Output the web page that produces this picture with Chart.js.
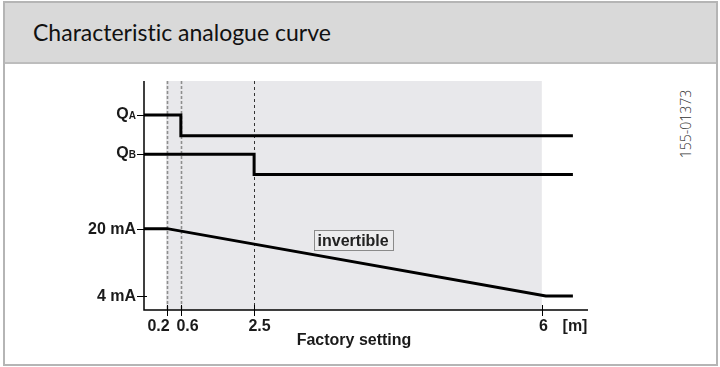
<!DOCTYPE html>
<html>
<head>
<meta charset="utf-8">
<script src="https://cdn.jsdelivr.net/npm/chart.js@4.4.1/dist/chart.umd.min.js"></script>
<style>
  html, body { margin: 0; padding: 0; background: #fff; }
  body { width: 720px; height: 367px; position: relative; overflow: hidden; }
  .card {
    position: absolute; left: 3px; top: 1px;
    width: 711px; height: 361px;
    border: 2px solid #b5b5b5; background: #fff;
  }
  .card-head {
    height: 59px; background: #d9d9d9; border-bottom: 2px solid #bdbdbd;
  }
  .card-head h1 {
    margin: 0; padding: 0 0 0 28px;
    font: 400 23px "Lato", sans-serif; line-height: 59px; color: #111;
    font-variant-ligatures: none;
  }
  .docno {
    position: absolute; left: 685px; top: 124px;
    transform: translate(-50%, -50%) rotate(-90deg);
    font: 300 14px "Open Sans", sans-serif; color: #333; white-space: nowrap;
  }
  #chart { position: absolute; left: 0; top: 0; }
</style>
</head>
<body>
<div class="card">
  <div class="card-head"><h1>Characteristic analogue curve</h1></div>
</div>
<div class="docno">155-01373</div>
<canvas id="chart" width="720" height="367"></canvas>
<script>
  // Distance axis is schematic (0..100 along the axis), labelled in metres
  const distLabels = ["0.2", "0.6", "2.5", "6"];
  const distAt = [5.2, 8.3, 24.8, 89.6];
  const lineEnd = 96.6;

  // Switching outputs QA / QB (level on the Q scale, 0..100)
  const qaX = [0, 8.3, 8.3, lineEnd];
  const qaY = [85.1, 85.1, 76.1, 76.1];
  const qbX = [0, 24.8, 24.8, lineEnd];
  const qbY = [68.0, 68.0, 59.2, 59.2];

  // Analogue output in mA
  const maX = [0, 5.2, 90.5, lineEnd];
  const maY = [20, 20, 4, 4];
  const maTicks = [20, 4];
  const qTicks = [85.1, 68.0];
  const qNames = ["A", "B"];

  const toPoints = (xs, ys) => xs.map((x, i) => ({ x: x, y: ys[i] }));

  const BOLD = "bold 16px 'Liberation Sans', Arial, sans-serif";

  // Shaded range, dashed markers, axes and labels
  const schematic = {
    id: "schematic",
    beforeDatasetsDraw(chart) {
      const ctx = chart.ctx;
      const area = chart.chartArea;
      const x = chart.scales.x;

      ctx.save();
      const x0 = x.getPixelForValue(distAt[0]);
      const x1 = x.getPixelForValue(distAt[3]);
      ctx.fillStyle = "#e8e8eb";
      ctx.fillRect(x0 - 1, area.top, x1 - x0 + 1, area.bottom - area.top);

      // dashed markers at 0.2, 0.6 and 2.5
      [0, 1, 2].forEach(function (i) {
        const px = Math.round(x.getPixelForValue(distAt[i])) + 0.5;
        ctx.beginPath();
        if (i < 2) {
          ctx.strokeStyle = "#8e8e8e";
          ctx.lineWidth = 1.6;
          ctx.setLineDash([3, 2]);
        } else {
          ctx.strokeStyle = "#333";
          ctx.lineWidth = 1;
          ctx.setLineDash([3, 3]);
        }
        ctx.moveTo(px, area.top);
        ctx.lineTo(px, area.bottom);
        ctx.stroke();
      });
      ctx.setLineDash([]);

      // "invertible" note on the analogue line
      const bx = x.getPixelForValue(47.1);
      const by = chart.scales.y.getPixelForValue(17.25);
      ctx.font = BOLD;
      const w = ctx.measureText("invertible").width + 8;
      ctx.fillStyle = "#ececee";
      ctx.fillRect(bx - w / 2, by - 10, w, 20);
      ctx.strokeStyle = "#8a8a8a";
      ctx.lineWidth = 1;
      ctx.strokeRect(Math.round(bx - w / 2) + 0.5, Math.round(by - 10) + 0.5, Math.round(w), 20);
      ctx.fillStyle = "#222";
      ctx.textAlign = "center";
      ctx.textBaseline = "alphabetic";
      ctx.fillText("invertible", bx, by + 6);
      ctx.restore();
    },
    afterDatasetsDraw(chart) {
      const ctx = chart.ctx;
      const area = chart.chartArea;
      const x = chart.scales.x;
      const y = chart.scales.y;
      const q = chart.scales.q;
      const axisEnd = x.getPixelForValue(100);

      ctx.save();
      ctx.strokeStyle = "#000";
      ctx.lineWidth = 1.5;
      ctx.beginPath();
      ctx.moveTo(area.left, area.top);
      ctx.lineTo(area.left, area.bottom);
      ctx.lineTo(axisEnd, area.bottom);
      ctx.stroke();

      ctx.lineWidth = 1;
      ctx.font = BOLD;
      ctx.fillStyle = "#1a1a1a";
      ctx.textBaseline = "alphabetic";

      // y ticks: Q outputs
      qTicks.forEach(function (v, i) {
        const py = Math.round(q.getPixelForValue(v)) + 0.5;
        ctx.beginPath();
        ctx.moveTo(area.left - 7, py);
        ctx.lineTo(area.left, py);
        ctx.stroke();
        ctx.font = "bold 10px 'Liberation Sans', Arial, sans-serif";
        const sw = ctx.measureText(qNames[i]).width;
        ctx.textAlign = "right";
        ctx.fillText(qNames[i], area.left - 8, py + 3.5);
        ctx.font = BOLD;
        ctx.fillText("Q", area.left - 8 - sw, py + 3.5);
      });

      // y ticks: mA
      maTicks.forEach(function (v) {
        const py = Math.round(y.getPixelForValue(v)) + 0.5;
        ctx.beginPath();
        ctx.moveTo(area.left - 7, py);
        ctx.lineTo(area.left + 3, py);
        ctx.stroke();
        ctx.textAlign = "right";
        ctx.fillText(v + " mA", area.left - 8, py + 4);
      });

      // x ticks
      const nudge = [-9, 6, 5, 1];
      distAt.forEach(function (v, i) {
        const px = Math.round(x.getPixelForValue(v)) + 0.5;
        ctx.beginPath();
        ctx.moveTo(px, area.bottom - 5);
        ctx.lineTo(px, area.bottom + 6);
        ctx.stroke();
        ctx.textAlign = "center";
        ctx.fillText(distLabels[i], px + nudge[i], area.bottom + 21);
      });
      ctx.textAlign = "center";
      ctx.fillText("[m]", axisEnd - 13, area.bottom + 21);
      ctx.fillText("Factory setting", x.getPixelForValue(47.3), area.bottom + 34.5);
      ctx.restore();
    }
  };

  const lineStyle = {
    borderColor: "#000",
    borderWidth: 3,
    pointRadius: 0,
    tension: 0,
    fill: false,
    borderJoinStyle: "miter",
    borderCapStyle: "butt",
  };

  new Chart(document.getElementById("chart").getContext("2d"), {
    type: "line",
    data: {
      datasets: [
        Object.assign({ label: "QA", data: toPoints(qaX, qaY), yAxisID: "q" }, lineStyle),
        Object.assign({ label: "QB", data: toPoints(qbX, qbY), yAxisID: "q" }, lineStyle),
        Object.assign({ label: "mA", data: toPoints(maX, maY), yAxisID: "y" }, lineStyle),
      ],
    },
    options: {
      responsive: false,
      animation: false,
      devicePixelRatio: 1,
      layout: { padding: { left: 144, right: 132, top: 81, bottom: 57 } },
      plugins: { legend: { display: false }, tooltip: { enabled: false } },
      scales: {
        x: { type: "linear", min: 0, max: 100, display: false },
        y: { type: "linear", min: 0.66, max: 55.1, display: false },
        q: { type: "linear", min: 0, max: 100, display: false },
      },
    },
    plugins: [schematic],
  });
</script>
</body>
</html>
